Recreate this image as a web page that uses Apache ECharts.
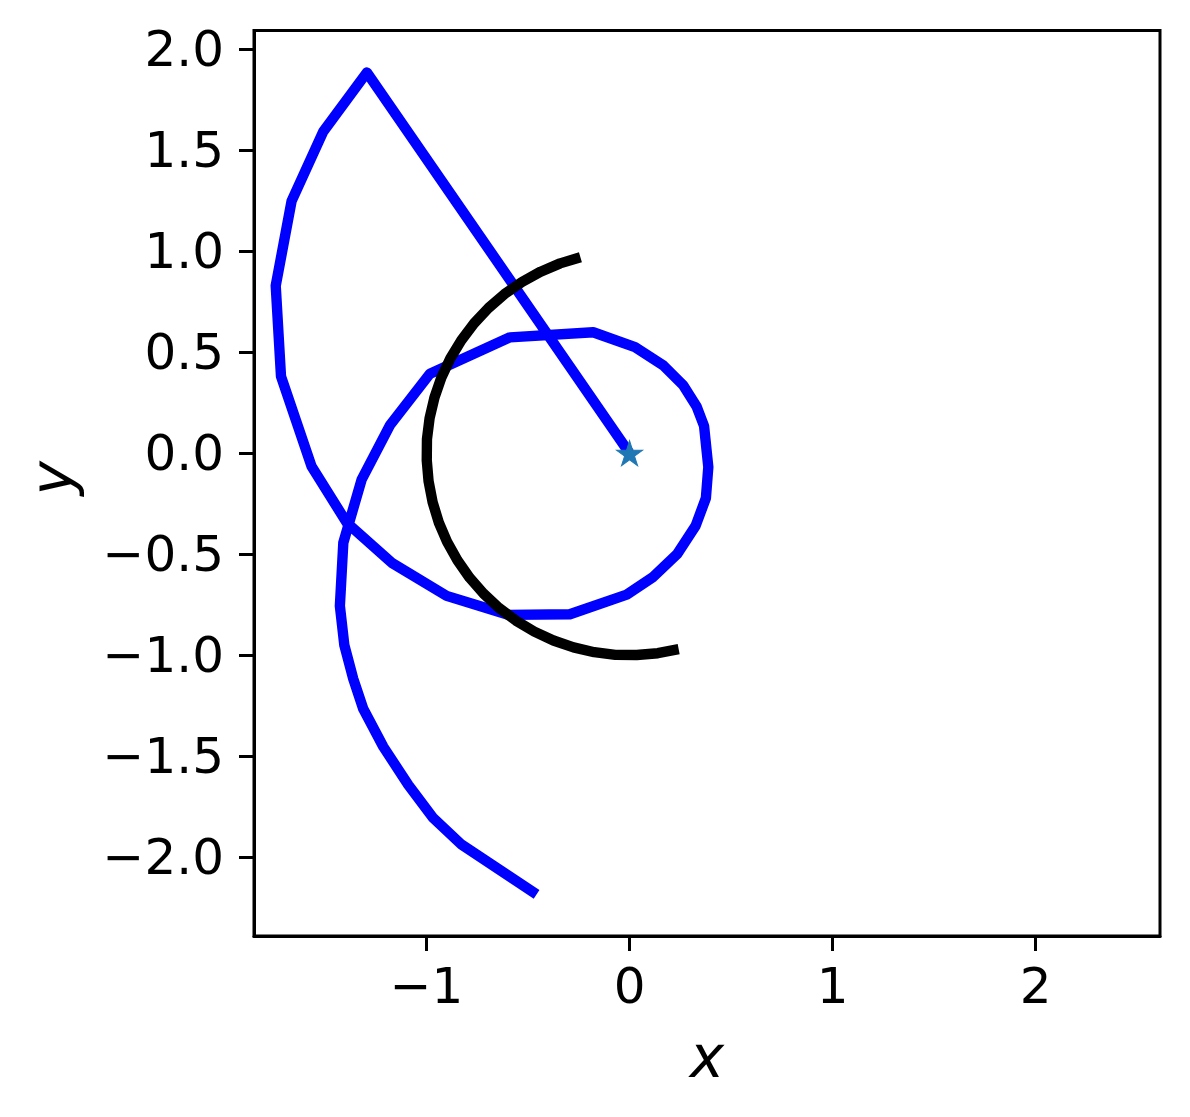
<!DOCTYPE html>
<html>
<head>
<meta charset="utf-8">
<script src="https://cdn.jsdelivr.net/npm/echarts@6/dist/echarts.min.js"></script>
<style>
  html, body { margin: 0; padding: 0; background: #fff; }
  #chart { width: 1190px; height: 1117px; }
</style>
</head>
<body>
<div id="chart"></div>
<script>
// Trajectory (blue), starting at the star
const blueX = [0, -1.294, -1.509, -1.665, -1.743, -1.717, -1.566, -1.392, -1.172, -0.901,
  -0.598, -0.294, -0.014, 0.117, 0.236, 0.326, 0.376, 0.388, 0.367, 0.331,
  0.265, 0.166, 0.027, -0.179, -0.589, -0.983, -1.180, -1.320, -1.410, -1.427,
  -1.405, -1.361, -1.312, -1.213, -1.090, -0.967, -0.827, -0.458];
const blueY = [0, 1.885, 1.592, 1.248, 0.829, 0.381, -0.066, -0.345, -0.542, -0.706,
  -0.800, -0.797, -0.700, -0.612, -0.497, -0.358, -0.222, -0.068, 0.135, 0.230,
  0.336, 0.435, 0.525, 0.599, 0.574, 0.394, 0.139, -0.131, -0.443, -0.756,
  -0.950, -1.117, -1.265, -1.453, -1.642, -1.806, -1.938, -2.184];

// Black arc
const arcX = [-0.242, -0.342, -0.438, -0.530, -0.616, -0.695, -0.766, -0.829, -0.883, -0.927,
  -0.961, -0.985, -0.998, -0.999, -0.990, -0.970, -0.940, -0.899, -0.848, -0.788,
  -0.719, -0.643, -0.559, -0.469, -0.375, -0.276, -0.174, -0.070, 0.035, 0.139, 0.242];
const arcY = [0.970, 0.940, 0.899, 0.848, 0.788, 0.719, 0.643, 0.559, 0.469, 0.375,
  0.276, 0.174, 0.070, -0.035, -0.139, -0.242, -0.342, -0.438, -0.530, -0.616,
  -0.695, -0.766, -0.829, -0.883, -0.927, -0.961, -0.985, -0.998, -0.999, -0.990, -0.970];

// Star marker
const starX = [0];
const starY = [0];

// Tick values
const xTicks = [-1, 0, 1, 2];
const yTicks = [-2.0, -1.5, -1.0, -0.5, 0.0, 0.5, 1.0, 1.5, 2.0];

const zip = (a, b) => a.map((v, i) => [v, b[i]]);
const fmt = (v, d) => {
  const s = Math.abs(v).toFixed(d);
  return (v < -1e-9 ? '\u2212' : '') + s;
};

const FONT = 'DejaVu Sans';
const chart = echarts.init(document.getElementById('chart'), null, { renderer: 'canvas' });

const starPath = 'path://M0,-1 L0.2245,-0.309 L0.951,-0.309 L0.363,0.118 L0.588,0.809 L0,0.382 L-0.588,0.809 L-0.363,0.118 L-0.951,-0.309 L-0.2245,-0.309 Z';

chart.setOption({
  animation: false,
  backgroundColor: '#ffffff',
  grid: {
    left: 254, top: 30.5, width: 906, height: 905.5,
    show: true, borderColor: '#000', borderWidth: 3, backgroundColor: 'transparent'
  },
  xAxis: {
    type: 'value', min: -1.85, max: 2.613,
    splitLine: { show: false },
    axisLine: { show: true, onZero: false, lineStyle: { color: '#000', width: 3 } },
    axisTick: { show: true, length: 15, inside: false, customValues: xTicks, lineStyle: { color: '#000', width: 3 } },
    axisLabel: { show: true, customValues: xTicks, margin: 29, fontFamily: FONT, fontSize: 50, color: '#000',
      formatter: v => fmt(v, 0) },
    name: 'x', nameLocation: 'middle', nameGap: 97,
    nameTextStyle: { fontFamily: FONT, fontStyle: 'italic', fontSize: 58, color: '#000' }
  },
  yAxis: {
    type: 'value', min: -2.39, max: 2.093,
    splitLine: { show: false },
    axisLine: { show: true, onZero: false, lineStyle: { color: '#000', width: 3 } },
    axisTick: { show: true, length: 15, inside: false, customValues: yTicks, lineStyle: { color: '#000', width: 3 } },
    axisLabel: { show: true, customValues: yTicks, margin: 30, fontFamily: FONT, fontSize: 50, color: '#000',
      formatter: v => '{a|' + fmt(v, 1) + '}',
      rich: { a: { fontFamily: FONT, fontSize: 50, color: '#000', padding: [8, 0, 0, 0] } } },
    name: 'y', nameLocation: 'middle', nameGap: 168, nameRotate: 90,
    nameTextStyle: { fontFamily: FONT, fontStyle: 'italic', fontSize: 58, color: '#000', padding: [0, 0, 0, 10] }
  },
  series: [
    {
      type: 'line', data: zip(blueX, blueY), showSymbol: false, symbol: 'none',
      lineStyle: { color: '#0000ff', width: 10.4, cap: 'butt', join: 'round' },
      z: 2, silent: true
    },
    {
      type: 'line', data: zip(arcX, arcY), showSymbol: false, symbol: 'none',
      lineStyle: { color: '#000000', width: 10.4, cap: 'butt', join: 'round' },
      z: 3, silent: true
    },
    {
      type: 'scatter', data: zip(starX, starY), symbol: starPath, symbolSize: [26, 25],
      itemStyle: { color: '#1f77b4', borderColor: '#1f77b4', borderWidth: 1, opacity: 1 },
      z: 4, silent: true
    }
  ]
});
</script>
</body>
</html>
